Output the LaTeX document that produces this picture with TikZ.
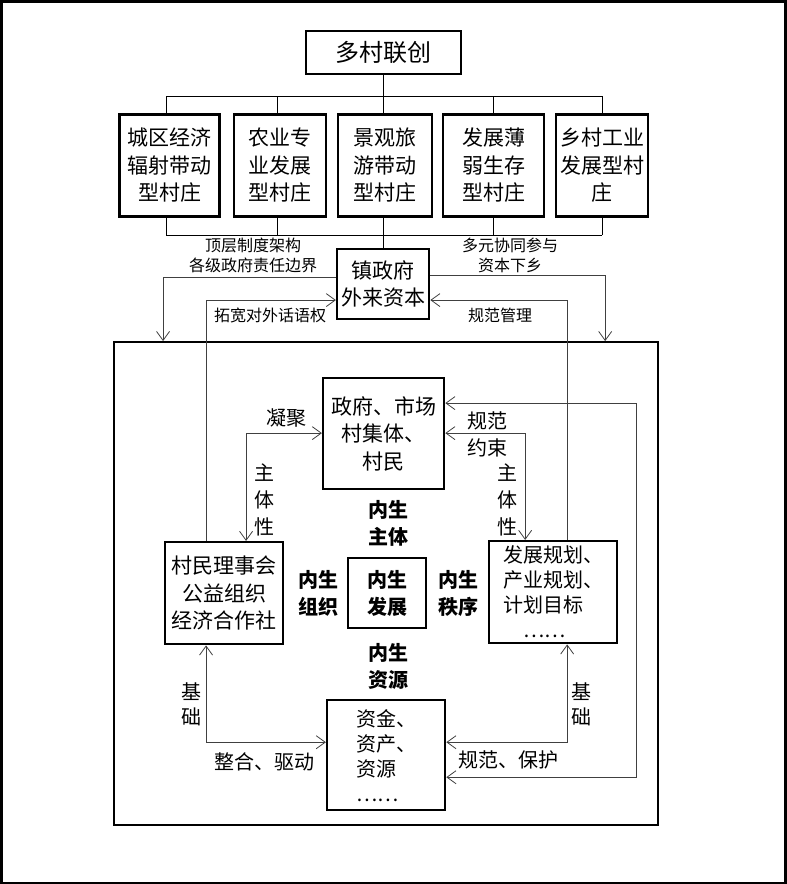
\documentclass[tikz,border=0pt]{standalone}
\usepackage{fontspec}
\newfontfamily\cjk{Noto Sans CJK SC}
\usetikzlibrary{arrows.meta}

\begin{document}
\begin{tikzpicture}[x=1pt,y=-1pt,font=\cjk,
  box/.style={draw,line width=2.4pt,inner sep=0pt,align=center,
    font=\cjk\fontsize{21}{27.5}\selectfont},
  txt/.style={inner sep=0pt,align=center,font=\cjk\fontsize{20}{27}\selectfont},
  small/.style={inner sep=0pt,align=center,font=\cjk\fontsize{16}{20}\selectfont},
  inner/.style={inner sep=0pt,align=center,font=\cjk\bfseries\fontsize{20}{27}\selectfont},
  ln/.style={line width=0.8pt},
  arr/.style={line width=0.8pt,black!75,-{Straight Barb[length=9pt,width=13pt]}},
  both/.style={line width=0.8pt,black!75,{Straight Barb[length=9pt,width=13pt]}-{Straight Barb[length=9pt,width=13pt]}}]

% page frame
\draw[line width=2.5pt] (1.25,1.25) rectangle (785.5,882.5);

% top level
\node[box,line width=1.5pt,font=\cjk\fontsize{24}{28}\selectfont,minimum width=155,minimum height=43] (top) at (383.5,52.5) {多村联创};

\node[box,minimum width=100,minimum height=102] (v1) at (169.5,165.5) {城区经济\\辐射带动\\型村庄};
\node[box,minimum width=92,minimum height=102] (v2) at (280,165.5) {农业专\\业发展\\型村庄};
\node[box,minimum width=94,minimum height=102] (v3) at (385,165.5) {景观旅\\游带动\\型村庄};
\node[box,minimum width=101,minimum height=102] (v4) at (493.5,165.5) {发展薄\\弱生存\\型村庄};
\node[box,minimum width=92,minimum height=102] (v5) at (602,165.5) {乡村工业\\发展型村\\庄};

\coordinate (tl) at (166,96);
\coordinate (tr) at (602,96);
\coordinate (bl) at (166,235);
\coordinate (br) at (602,235);
\draw[ln] (top.south) -- (top.south |- tl);
\draw[ln] (tl) -- (tr);
\draw[ln] (bl) -- (br);
\foreach \v/\x in {v1/166,v2/277,v3/383,v4/493,v5/602}{
  \coordinate (u\v) at (\x,96);
  \coordinate (d\v) at (\x,235);
  \draw[ln] (u\v) -- (u\v |- \v.north);
  \draw[ln] (d\v) -- (d\v |- \v.south);
}

% town
\node[box,minimum width=92,minimum height=70] (town) at (383,284) {镇政府\\外来资本};
\draw[ln] (town.north) -- (town.north |- bl);

\node[small] (l1) at (253,255) {顶层制度架构\\各级政府责任边界};
\node[small] (l2) at (510,255) {多元协同参与\\资本下乡};
\node[small] (l3) at (270,315) {拓宽对外话语权};
\node[small] (l4) at (500,315) {规范管理};

% inner frame
\draw[line width=2.4pt] (114,342) rectangle (658,825);
\coordinate (inl) at (163,341);
\coordinate (inr) at (605,341);
\draw[arr] ([yshift=7pt]town.west) -| (inl);
\draw[arr] ([yshift=9pt]town.east) -| (inr);

% inner nodes
\node[box,minimum width=121,minimum height=111] (gov) at (383.5,433.5) {政府、市场\\村集体、\\村民};
\node[box,minimum width=118,minimum height=102] (org) at (224,593) {村民理事会\\公益组织\\经济合作社};
\node[box,font=\cjk\bfseries\fontsize{20}{27}\selectfont,minimum width=78,minimum height=70] (dev) at (387,593) {内生\\发展};
\node[box,align=left,font=\cjk\fontsize{20}{25}\selectfont,minimum width=128,minimum height=102] (plan) at (553,592) {发展规划、\\产业规划、\\计划目标\\\hspace*{1em}……};
\node[box,align=left,font=\cjk\fontsize{20}{25}\selectfont,minimum width=118,minimum height=110] (res) at (386,755) {资金、\\资产、\\资源\\……};

\node[inner] (n1) at (388,523) {内生\\主体};
\node[inner] (n2) at (318,593) {内生\\组织};
\node[inner] (n3) at (458,593) {内生\\秩序};
\node[inner] (n4) at (388,666) {内生\\资源};

% links to town
\draw[arr] ([xshift=-18pt]org.north) |- ([yshift=-16pt]town.west);
\draw[arr] ([xshift=14pt]plan.north) |- ([yshift=-16pt]town.east);

% links in the ring
\coordinate (j1) at (246,433);
\coordinate (j2) at (525,433);
\coordinate (j3) at (206,742);
\coordinate (j4) at (567,742);
\coordinate (c1) at (636,403);
\coordinate (c2) at (636,777);
\draw[both] (j1 -| gov.west) -- (j1) -- (j1 |- org.north);
\draw[both] (j2 -| gov.east) -- (j2) -- (j2 |- plan.north);
\draw[both] (j3 |- org.south) -- (j3) -- (j3 -| res.west);
\draw[both] (j4 |- plan.south) -- (j4) -- (j4 -| res.east);
\draw[both] (c1 -| gov.east) -- (c1) -- (c2) -- (c2 -| res.east);

\node[txt] (k1) at (286,418) {凝聚};
\node[txt] (k2) at (264,500) {主\\体\\性};
\node[txt] (k3) at (487,434) {规范\\约束};
\node[txt] (k4) at (507,500) {主\\体\\性};
\node[txt,font=\cjk\fontsize{20}{25}\selectfont] (k5) at (191,704) {基\\础};
\node[txt,font=\cjk\fontsize{20}{25}\selectfont] (k6) at (581,704) {基\\础};
\node[txt] (k7) at (264,762) {整合、驱动};
\node[txt] (k8) at (508,760) {规范、保护};

\end{tikzpicture}
\end{document}
